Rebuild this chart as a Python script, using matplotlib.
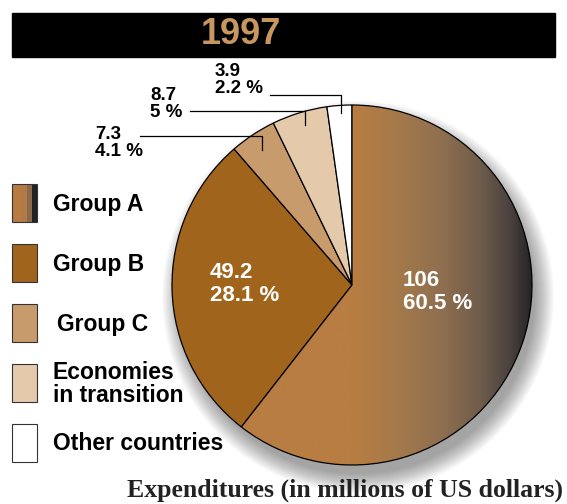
import numpy as np
import matplotlib
matplotlib.use("Agg")
import matplotlib.pyplot as plt
from matplotlib.patches import Rectangle, Circle
from matplotlib.colors import LinearSegmentedColormap

# ---- data ----
title = "1997"
categories = ["Group A", "Group B", "Group C", "Economies\nin transition", "Other countries"]
values = [106, 49.2, 7.3, 8.7, 3.9]
pct_labels = ["60.5 %", "28.1 %", "4.1 %", "5 %", "2.2 %"]
value_labels = ["106", "49.2", "7.3", "8.7", "3.9"]
colors = ["#b47a40", "#a0641c", "#c89b6c", "#e4c9ab", "#ffffff"]
caption = "Expenditures (in millions of US dollars)"

W, H = 567, 504
fig = plt.figure(figsize=(W / 100, H / 100), dpi=100)
ax = fig.add_axes([0, 0, 1, 1])

def Y(y):
    return H - y

font = ["Liberation Sans", "DejaVu Sans"]

cx, cy, r = 352, Y(285), 180

wedges, _ = ax.pie(values, colors=colors, startangle=90, counterclock=False,
                   center=(cx, cy), radius=r,
                   wedgeprops=dict(edgecolor="black", linewidth=0.9))
for w in wedges:
    w.set_zorder(4)

# gradient for Group A (constant on left half, darkening to the right)
cmap = LinearSegmentedColormap.from_list(
    "ga", [(0.0, "#b87d42"), (0.5, "#b87d42"), (0.62, "#a67a4a"), (0.75, "#8f6f50"),
           (0.86, "#6e5c4a"), (0.94, "#4a4240"), (1.0, "#262424")])
grad = np.linspace(0, 1, 512).reshape(1, -1)
im = ax.imshow(grad, cmap=cmap, extent=(cx - r, cx + r, cy - r, cy + r),
               aspect="auto", zorder=5, interpolation="bicubic")
im.set_clip_path(wedges[0])
wedges[0].set_facecolor("none")
wedges[0].set_zorder(6)

# soft shadow
for i in range(20):
    rr = r + 16 - i * 1.0
    ax.add_patch(Circle((cx + 6, cy - 12), rr, color="black", alpha=0.02, lw=0, zorder=1))

# title bar
ax.add_patch(Rectangle((12, Y(57)), 543, 44, color="black", zorder=1))
ax.text(241, Y(35), title, color="#c8965f", fontsize=26, fontweight="bold",
        family=font, ha="center", va="center", zorder=3)

# inside labels
ax.text(403, Y(292), value_labels[0] + "\n" + pct_labels[0], color="white",
        fontsize=16, fontweight="bold", family=font, ha="left", va="center",
        linespacing=1.15, zorder=7)
ax.text(210, Y(284), value_labels[1] + "\n" + pct_labels[1], color="white",
        fontsize=16, fontweight="bold", family=font, ha="left", va="center",
        linespacing=1.15, zorder=7)

# outside labels with leader lines
outs = [
    (95, Y(143), 2, [(140, Y(136)), (262, Y(136)), (262, Y(150))]),
    (150, Y(104), 3, [(190, Y(111)), (305, Y(111)), (305, Y(125))]),
    (215, Y(80), 4, [(270, Y(95)), (341, Y(95)), (341, Y(113))]),
]
for tx, ty, idx, pts in outs:
    ax.text(tx, ty, value_labels[idx] + "\n" + pct_labels[idx], color="black",
            fontsize=13.5, fontweight="bold", family=font, ha="left", va="center",
            linespacing=1.05, zorder=7)
    xs, ys = zip(*pts)
    ax.plot(xs, ys, color="black", lw=0.9, zorder=7)

# legend
leg_y = [184, 244, 304, 364, 424]
for i, (cat, yy) in enumerate(zip(categories, leg_y)):
    x0, w, h = 12, 25, 38
    if i == 0:
        stripes = ["#b87c42", "#b27a46", "#8b6a4c", "#222222"]
        sw = [9, 6, 5, 5]
        xx = x0
        for c, s in zip(stripes, sw):
            ax.add_patch(Rectangle((xx, Y(yy + h)), s, h, color=c, lw=0, zorder=3))
            xx += s
        ax.add_patch(Rectangle((x0, Y(yy + h)), w, h, fill=False, ec="#333333", lw=0.8, zorder=4))
    else:
        ax.add_patch(Rectangle((x0, Y(yy + h)), w, h, fc=colors[i], ec="#333333", lw=0.8, zorder=3))
    tx = 53 if i != 2 else 57
    ax.text(tx, Y(yy + h / 2 + 1), cat, color="black", fontsize=16.5, fontweight="bold",
            family=font, ha="left", va="center", linespacing=0.95, zorder=3)

# caption
ax.text(563, Y(490), caption, color="#222222", fontsize=18.5, fontweight="bold",
        family=["Liberation Serif", "DejaVu Serif"], ha="right", va="center", zorder=3)

ax.set_xlim(0, W)
ax.set_ylim(0, H)
ax.set_aspect("equal")
ax.axis("off")

fig.savefig("out.png", dpi=100)
